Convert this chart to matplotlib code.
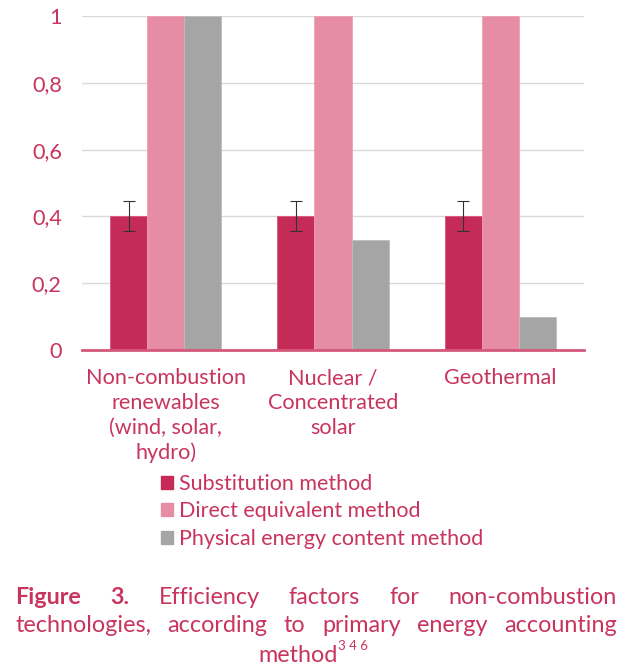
import matplotlib
matplotlib.use("Agg")
import matplotlib.pyplot as plt
import numpy as np
from matplotlib.patches import Patch

plt.rcParams['font.family'] = ['Lato', 'DejaVu Sans']

categories = ["Non-combustion\nrenewables\n(wind, solar,\nhydro)", "Nuclear /\nConcentrated\nsolar", "Geothermal"]
substitution = [0.4, 0.4, 0.4]
substitution_err = [0.045, 0.045, 0.045]
direct_equiv = [1.0, 1.0, 1.0]
physical = [1.0, 0.33, 0.1]
series_names = ["Substitution method", "Direct equivalent method", "Physical energy content method"]
yticks = [0, 0.2, 0.4, 0.6, 0.8, 1]
ytick_labels = ["0", "0,2", "0,4", "0,6", "0,8", "1"]

c_sub = "#C42B56"
c_dir = "#E68DA5"
c_phy = "#A5A5A5"
txt = "#C8345F"

W, H = 642, 668
fig = plt.figure(figsize=(W / 100, H / 100), dpi=100)
ax = fig.add_axes([82 / W, 1 - 350 / H, (584 - 82) / W, (350 - 16) / H])

x = np.arange(len(categories))
bw = 0.222
ax.bar(x - bw, substitution, bw, color=c_sub, edgecolor="#D9557A", linewidth=0.6,
       yerr=substitution_err, error_kw=dict(ecolor="#333333", elinewidth=0.8, capsize=4.5, capthick=0.8))
ax.bar(x, direct_equiv, bw, color=c_dir, edgecolor="#EBA0B4", linewidth=0.6)
ax.bar(x + bw, physical, bw, color=c_phy, edgecolor="#BDBDBD", linewidth=0.6)

ax.set_xlim(-0.5, 2.5)
ax.set_ylim(0, 1)
ax.set_yticks(yticks)
ax.set_yticklabels(ytick_labels)
ax.set_xticks(x)
ax.set_xticklabels(categories, linespacing=1.3)
ax.tick_params(axis="both", length=0, colors=txt, labelsize=15.6)
ax.tick_params(axis="y", pad=14.5)
ax.tick_params(axis="x", pad=13)
ax.yaxis.grid(True, color="#D9D9D9", linewidth=1)
ax.set_axisbelow(True)
for s in ["top", "right", "left"]:
    ax.spines[s].set_visible(False)
ax.spines["bottom"].set_color("#D4587C")
ax.spines["bottom"].set_linewidth(2)

handles = [Patch(color=c) for c in (c_sub, c_dir, c_phy)]
leg = fig.legend(handles, series_names, loc="upper left", bbox_to_anchor=(161 / W, 1 - 474 / H),
                 frameon=False, fontsize=15.5, handlelength=0.55, handleheight=0.55,
                 handletextpad=0.3, labelspacing=0.34, borderaxespad=0, borderpad=0)
for t in leg.get_texts():
    t.set_color(txt)

# justified caption
fig.canvas.draw()
r = fig.canvas.get_renderer()
cap_fs = 16.8
x0, x1 = 15, 617


def put_line(words, y):
    objs = []
    for w, bold in words:
        t = fig.text(0, 1 - y / H, w, fontsize=cap_fs, color=txt, va="center",
                     fontweight="bold" if bold else "normal")
        objs.append(t)
    widths = [t.get_window_extent(r).width for t in objs]
    gap = (x1 - x0 - sum(widths)) / (len(objs) - 1)
    pos = x0
    for t, wd in zip(objs, widths):
        t.set_x(pos / W)
        pos += wd + gap


put_line([("Figure", True), ("3.", True), ("Efficiency", False), ("factors", False),
          ("for", False), ("non-combustion", False)], 597)
put_line([("technologies,", False), ("according", False), ("to", False), ("primary", False),
          ("energy", False), ("accounting", False)], 626)
m = fig.text(258 / W, 1 - 655 / H, "method", fontsize=cap_fs, color=txt, va="center", ha="left")
mw = m.get_window_extent(r).width
fig.text((258 + mw + 1) / W, 1 - 646 / H, "3 4 6", fontsize=9.5, color=txt, va="center", ha="left")

fig.savefig("out.png", dpi=100)
